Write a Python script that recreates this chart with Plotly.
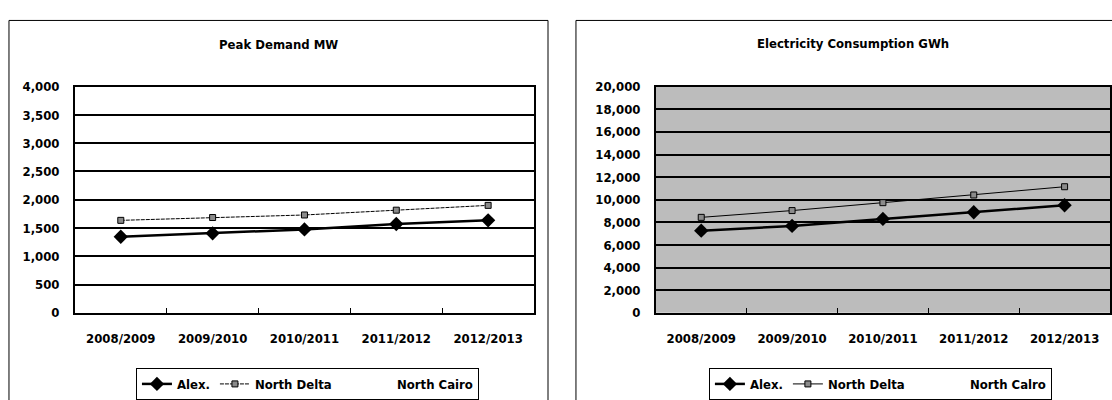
import plotly.graph_objects as go

# Fiscal years shared by both charts
years = ["2008/2009", "2009/2010", "2010/2011", "2011/2012", "2012/2013"]

# Peak demand (MW)
peak_alex = [1345, 1405, 1475, 1570, 1635]
peak_north_delta = [1635, 1685, 1730, 1815, 1900]
peak_north_cairo = [None, None, None, None, None]

# Electricity consumption (GWh)
cons_alex = [7260, 7680, 8300, 8890, 9510]
cons_north_delta = [8440, 9040, 9740, 10420, 11150]
cons_north_cairo = [None, None, None, None, None]

W, H = 1112, 400
FONT = "DejaVu Sans Condensed, DejaVu Sans"


def px_x(v):
    return v / W


def px_y(v):
    return (H - v) / H


fig = go.Figure()


def add_series(xa, ya, legend, alex, delta, cairo, cairo_name, delta_dash):
    fig.add_trace(go.Scatter(
        x=years, y=alex, name="Alex.", xaxis=xa, yaxis=ya, legend=legend,
        mode="lines+markers",
        line=dict(color="black", width=2.5),
        marker=dict(symbol="diamond", size=11, color="black"),
    ))
    fig.add_trace(go.Scatter(
        x=years, y=delta, name="North Delta", xaxis=xa, yaxis=ya, legend=legend,
        mode="lines+markers",
        line=dict(color="black", width=1, dash=delta_dash),
        marker=dict(symbol="square", size=6, color="#8a8a8a",
                    line=dict(color="black", width=1)),
    ))
    fig.add_trace(go.Scatter(
        x=years, y=cairo, name=cairo_name, xaxis=xa, yaxis=ya, legend=legend,
        mode="lines", line=dict(color="rgba(0,0,0,0)", width=1),
        showlegend=True,
    ))


add_series("x", "y", "legend", peak_alex, peak_north_delta, peak_north_cairo,
           "\u00a0\u00a0\u00a0\u00a0\u00a0North Cairo", "4px,1px")
add_series("x2", "y2", "legend2", cons_alex, cons_north_delta, cons_north_cairo,
           "\u00a0\u00a0\u00a0\u00a0\u00a0North Calro", "solid")

tick_font = dict(family=FONT, size=13, color="black", weight="bold")
y_dom = [px_y(318.5), px_y(83)]

xcommon = dict(
    type="category", range=[-0.5, 4.5], ticks="inside", tickson="boundaries",
    ticklen=5, tickcolor="black", tickwidth=1, showline=True, linecolor="black",
    linewidth=1.5, mirror=True, showgrid=False, tickfont=tick_font,
    ticklabelstandoff=13,
)
ycommon = dict(
    tickformat=",", showgrid=True, gridcolor="black", gridwidth=2,
    showline=True, linecolor="black", linewidth=1.5, mirror=True,
    zeroline=False, ticks="", tickfont=tick_font, ticklabelstandoff=11,
)

legend_common = dict(
    orientation="h", xanchor="center", yanchor="top",
    bordercolor="black", borderwidth=1, bgcolor="white",
    font=dict(family=FONT, size=13, color="black", weight="bold"),
    itemclick=False, itemdoubleclick=False,
)

fig.update_layout(
    width=W, height=H,
    margin=dict(l=0, r=0, t=0, b=0),
    paper_bgcolor="white", plot_bgcolor="white",
    xaxis=dict(domain=[px_x(75), px_x(535)], anchor="y", **xcommon),
    yaxis=dict(domain=y_dom, anchor="x", range=[0, 4000], dtick=500, **ycommon),
    xaxis2=dict(domain=[px_x(657), 1.0], anchor="y2", **xcommon),
    yaxis2=dict(domain=y_dom, anchor="x2", range=[0, 20000], dtick=2000, **ycommon),
    legend=dict(x=px_x(308), y=px_y(376), **legend_common),
    legend2=dict(x=px_x(882), y=px_y(376), **legend_common),
    showlegend=True,
    shapes=[
        # chart area frames
        dict(type="rect", xref="paper", yref="paper",
             x0=px_x(9), x1=px_x(549), y0=-0.1, y1=px_y(14),
             line=dict(color="black", width=1), layer="below"),
        dict(type="rect", xref="paper", yref="paper",
             x0=px_x(577), x1=1.05, y0=-0.1, y1=px_y(14),
             line=dict(color="black", width=1), layer="below"),
        # shaded plot area of the consumption chart
        dict(type="rect", xref="x2 domain", yref="y2 domain",
             x0=0, x1=1, y0=0, y1=1, fillcolor="#bcbcbc",
             line=dict(width=0), layer="below"),
    ],
    annotations=[
        dict(text="Peak Demand MW", xref="paper", yref="paper",
             x=px_x(279), y=px_y(39), showarrow=False,
             xanchor="center", yanchor="middle",
             font=dict(family=FONT, size=13, color="black", weight="bold")),
        dict(text="Electricity Consumption GWh", xref="paper", yref="paper",
             x=px_x(855), y=px_y(38), showarrow=False,
             xanchor="center", yanchor="middle",
             font=dict(family=FONT, size=13, color="black", weight="bold")),
    ],
)

fig.write_html("out.html")
